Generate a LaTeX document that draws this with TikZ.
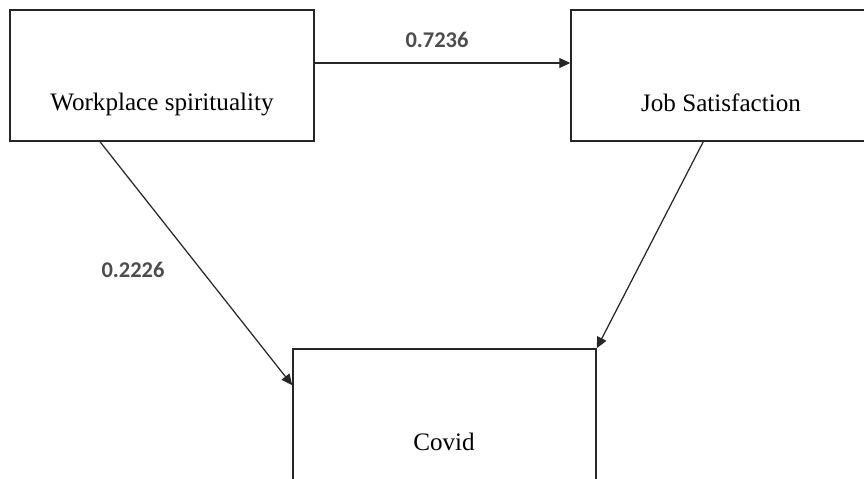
\documentclass[tikz,border=0pt]{standalone}
\usepackage{fontspec}
\setmainfont{Liberation Serif}
\newfontfamily\numfont{Carlito}
\usetikzlibrary{arrows.meta,positioning}

\begin{document}
\begin{tikzpicture}[x=0.02cm,y=-0.02cm,>={Triangle[length=2.2mm,width=2mm]},
  blockbox/.style={draw=black!85,line width=.9pt,inner sep=0pt},
  blocktext/.style={anchor=base,font=\fontsize{14.3}{16}\selectfont},
  coef/.style={anchor=base,font=\numfont\bfseries\fontsize{12.8}{14}\selectfont,text=black!70},
  link/.style={->,draw=black!85,line width=.7pt}]
\useasboundingbox (0,0) rectangle (864,478);
\clip (0,0) rectangle (864,478);
% the three blocks (two run off the page edge)
\node[blockbox,minimum width=6.08cm,minimum height=2.62cm] (wsbox) at (162,75.5) {};
\node[blockbox,minimum width=6.58cm,minimum height=2.62cm] (jsbox) at (735.5,75.5) {};
\node[blockbox,minimum width=6.06cm,minimum height=3.42cm] (covbox) at (444.5,434.5) {};
\node[blocktext] (wstext) at (162,110) {Workplace spirituality};
\node[blocktext] (jstext) at (721,111) {Job Satisfaction};
\node[blocktext] (covtext) at (444,450) {Covid};
% paths
\draw[link] ([yshift=0.25cm]wsbox.east) -- ([yshift=0.25cm]jsbox.west);
\draw[link] ([xshift=-1.24cm]wsbox.south) -- ([yshift=-0.74cm]covbox.north west);
\draw[link] ([xshift=2.66cm]jsbox.south west) -- (covbox.north east);
\node[coef] (wsjs) at (437,47) {0.7236};
\node[coef] (wscov) at (133,277) {0.2226};
\end{tikzpicture}
\end{document}
